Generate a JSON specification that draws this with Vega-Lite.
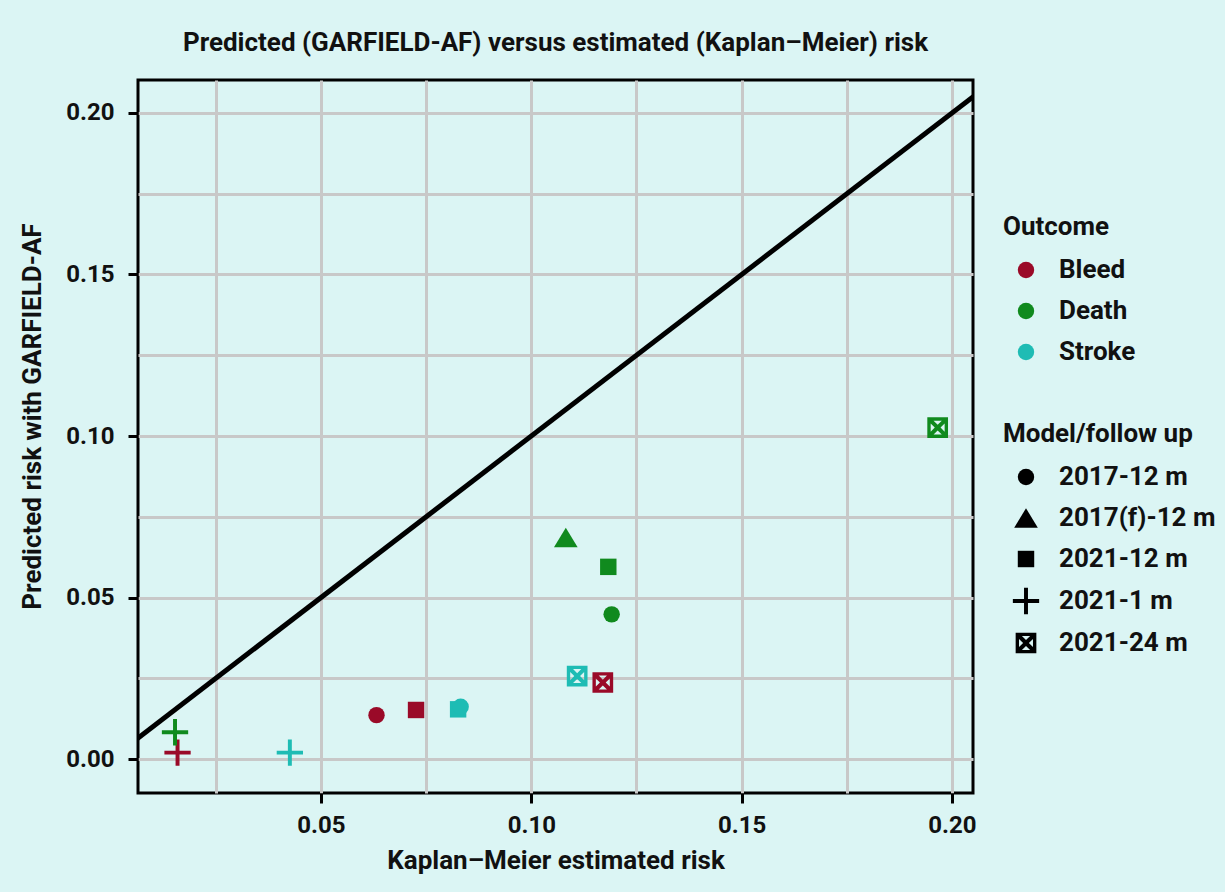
{
  "$schema": "https://vega.github.io/schema/vega-lite/v6.json",
  "width": 835,
  "height": 713,
  "autosize": "none",
  "padding": {"left": 138, "top": 80, "right": 252, "bottom": 99},
  "background": "#dbf5f4",
  "title": {
    "text": "Predicted (GARFIELD-AF) versus estimated (Kaplan\u2013Meier) risk",
    "font": "Roboto",
    "fontSize": 26,
    "fontWeight": "bold",
    "color": "#111111",
    "anchor": "middle",
    "offset": 24
  },
  "config": {
    "view": {"stroke": "#000000", "strokeWidth": 3, "fill": "#dbf5f4"},
    "axis": {
      "labelFont": "Roboto",
      "labelFontSize": 24,
      "labelFontWeight": "bold",
      "labelColor": "#111111",
      "titleFont": "Roboto",
      "titleFontSize": 26,
      "titleFontWeight": "bold",
      "titleColor": "#111111",
      "domain": false,
      "gridColor": "#c8c8c8",
      "gridWidth": 3,
      "gridOpacity": 1,
      "tickColor": "#000000",
      "tickWidth": 3,
      "tickSize": 10
    },
    "legend": {
      "labelFont": "Roboto",
      "labelFontSize": 26,
      "labelFontWeight": "bold",
      "labelColor": "#111111",
      "titleFont": "Roboto",
      "titleFontSize": 26,
      "titleFontWeight": "bold",
      "titleColor": "#111111",
      "titleLimit": 400,
      "labelLimit": 400,
      "symbolSize": 270,
      "rowPadding": 15,
      "titlePadding": 17,
      "labelOffset": 20,
      "symbolOffset": 10
    }
  },
  "layer": [
    {
      "data": {"values": [{"km": 0, "pred": 0}, {"km": 0.22, "pred": 0.22}]},
      "mark": {"type": "line", "color": "#000000", "strokeWidth": 5, "clip": true},
      "encoding": {
        "x": {"field": "km", "type": "quantitative"},
        "y": {"field": "pred", "type": "quantitative"}
      }
    },
    {
      "data": {
        "values": [
          {"km": 0.0632, "pred": 0.0136, "outcome": "Bleed", "model": "2017-12 m"},
          {"km": 0.0726, "pred": 0.0152, "outcome": "Bleed", "model": "2021-12 m"},
          {"km": 0.0159, "pred": 0.0020, "outcome": "Bleed", "model": "2021-1 m"},
          {"km": 0.1170, "pred": 0.0237, "outcome": "Bleed", "model": "2021-24 m"},
          {"km": 0.1082, "pred": 0.0686, "outcome": "Death", "model": "2017(f)-12 m"},
          {"km": 0.1183, "pred": 0.0595, "outcome": "Death", "model": "2021-12 m"},
          {"km": 0.1191, "pred": 0.0448, "outcome": "Death", "model": "2017-12 m"},
          {"km": 0.0153, "pred": 0.0083, "outcome": "Death", "model": "2021-1 m"},
          {"km": 0.1966, "pred": 0.1026, "outcome": "Death", "model": "2021-24 m"},
          {"km": 0.0826, "pred": 0.0154, "outcome": "Stroke", "model": "2021-12 m"},
          {"km": 0.0832, "pred": 0.0162, "outcome": "Stroke", "model": "2017-12 m"},
          {"km": 0.0426, "pred": 0.0020, "outcome": "Stroke", "model": "2021-1 m"},
          {"km": 0.1109, "pred": 0.0257, "outcome": "Stroke", "model": "2021-24 m"}
        ]
      },
      "mark": {"type": "point", "filled": true, "opacity": 1, "size": 270, "strokeWidth": 0},
      "encoding": {
        "x": {
          "field": "km",
          "type": "quantitative",
          "title": "Kaplan\u2013Meier estimated risk",
          "scale": {"domain": [0.0065, 0.205], "nice": false, "zero": false},
          "axis": {
            "values": [0.025, 0.05, 0.075, 0.1, 0.125, 0.15, 0.175, 0.2],
            "labelExpr": "abs(round(datum.value*100)%5)==0 ? format(datum.value, '.2f') : ''",
            "tickOpacity": {"condition": {"test": "abs(round(datum.value*100)%5)==0", "value": 1}, "value": 0},
            "labelPadding": 10,
            "titlePadding": 10
          }
        },
        "y": {
          "field": "pred",
          "type": "quantitative",
          "title": "Predicted risk with GARFIELD-AF",
          "scale": {"domain": [-0.0105, 0.2102], "nice": false, "zero": false},
          "axis": {
            "values": [0, 0.025, 0.05, 0.075, 0.1, 0.125, 0.15, 0.175, 0.2],
            "labelExpr": "abs(round(datum.value*100)%5)==0 ? format(datum.value, '.2f') : ''",
            "tickOpacity": {"condition": {"test": "abs(round(datum.value*100)%5)==0", "value": 1}, "value": 0},
            "labelPadding": 14,
            "titlePadding": 20,
            "titleY": 336
          }
        },
        "color": {
          "field": "outcome",
          "type": "nominal",
          "title": "Outcome",
          "scale": {"domain": ["Bleed", "Death", "Stroke"], "range": ["#9a0a28", "#108a1e", "#1ebcb4"]},
          "legend": {"orient": "none", "legendX": 865, "legendY": 134, "symbolType": "circle", "zindex": 1}
        },
        "shape": {
          "field": "model",
          "type": "nominal",
          "title": "Model/follow up",
          "scale": {
            "domain": ["2017-12 m", "2017(f)-12 m", "2021-12 m", "2021-1 m", "2021-24 m"],
            "range": [
              "circle",
              "M0,-1.19L1.44,1.19L-1.44,1.19Z",
              "square",
              "M-1.6,-0.24L-0.24,-0.24L-0.24,-1.6L0.24,-1.6L0.24,-0.24L1.6,-0.24L1.6,0.24L0.24,0.24L0.24,1.6L-0.24,1.6L-0.24,0.24L-1.6,0.24Z",
              "M-1.26,-1.26L1.26,-1.26L1.26,1.26L-1.26,1.26Z M-0.5,-0.85L0,-0.35L0.5,-0.85Z M0.85,-0.5L0.35,0L0.85,0.5Z M0.5,0.85L0,0.35L-0.5,0.85Z M-0.85,0.5L-0.35,0L-0.85,-0.5Z"
            ]
          },
          "legend": {"orient": "none", "legendX": 865, "legendY": 341, "symbolFillColor": "#000000", "symbolStrokeWidth": 0}
        }
      }
    }
  ]
}
